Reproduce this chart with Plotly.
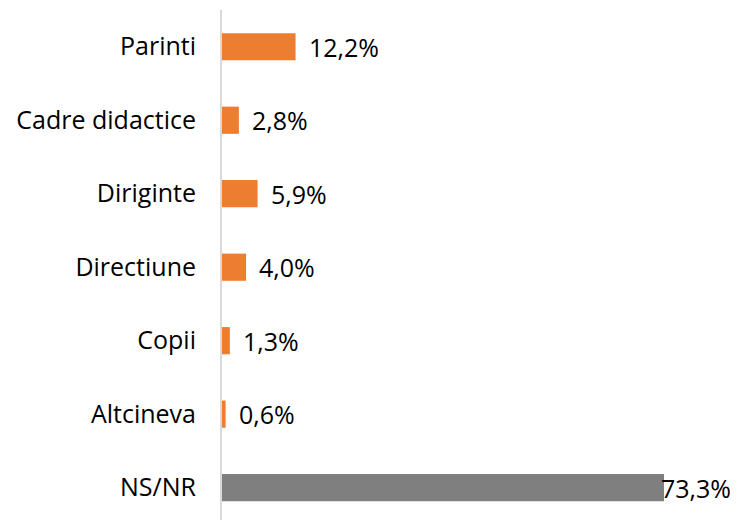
import plotly.graph_objects as go

categories = ["Parinti", "Cadre didactice", "Diriginte", "Directiune", "Copii", "Altcineva", "NS/NR"]
values = [12.2, 2.8, 5.9, 4.0, 1.3, 0.6, 73.3]
labels = ["12,2%", "2,8%", "5,9%", "4,0%", "1,3%", "0,6%", "73,3%"]
colors = ["#ED7D31"] * 6 + ["#7F7F7F"]

FONT = "Open Sans"
FS = 25

fig = go.Figure()
fig.add_trace(go.Bar(
    x=values, y=categories, orientation="h",
    marker=dict(color=colors, line=dict(width=0)),
    width=0.37, hoverinfo="skip",
))

for i, (c, v, t) in enumerate(zip(categories, values, labels)):
    last = i == len(categories) - 1
    fig.add_annotation(
        x=v, y=c, xref="x", yref="y", text=t, showarrow=False,
        xanchor="left", xshift=(-5 if last else 11),
        font=dict(family=FONT, size=FS, color="#000000"),
    )

fig.update_layout(
    width=737, height=520,
    margin=dict(l=222, r=0, t=10, b=0, autoexpand=False),
    paper_bgcolor="white", plot_bgcolor="white",
    showlegend=False,
    font=dict(family=FONT, size=FS, color="#000000"),
    xaxis=dict(range=[0, 85.4], visible=False, fixedrange=True, automargin=False),
    yaxis=dict(
        categoryorder="array", categoryarray=categories,
        range=[6.44, -0.5], automargin=False, fixedrange=True,
        showline=True, linecolor="#D9D9D9", linewidth=2,
        showgrid=False, zeroline=False, ticks="",
        ticklabelstandoff=19,
        tickfont=dict(family=FONT, size=FS, color="#000000"),
    ),
)

fig.write_html(
    "out.html",
    config={"displayModeBar": False},
    post_script="document.body.style.margin='0';document.body.style.overflow='hidden';",
)
